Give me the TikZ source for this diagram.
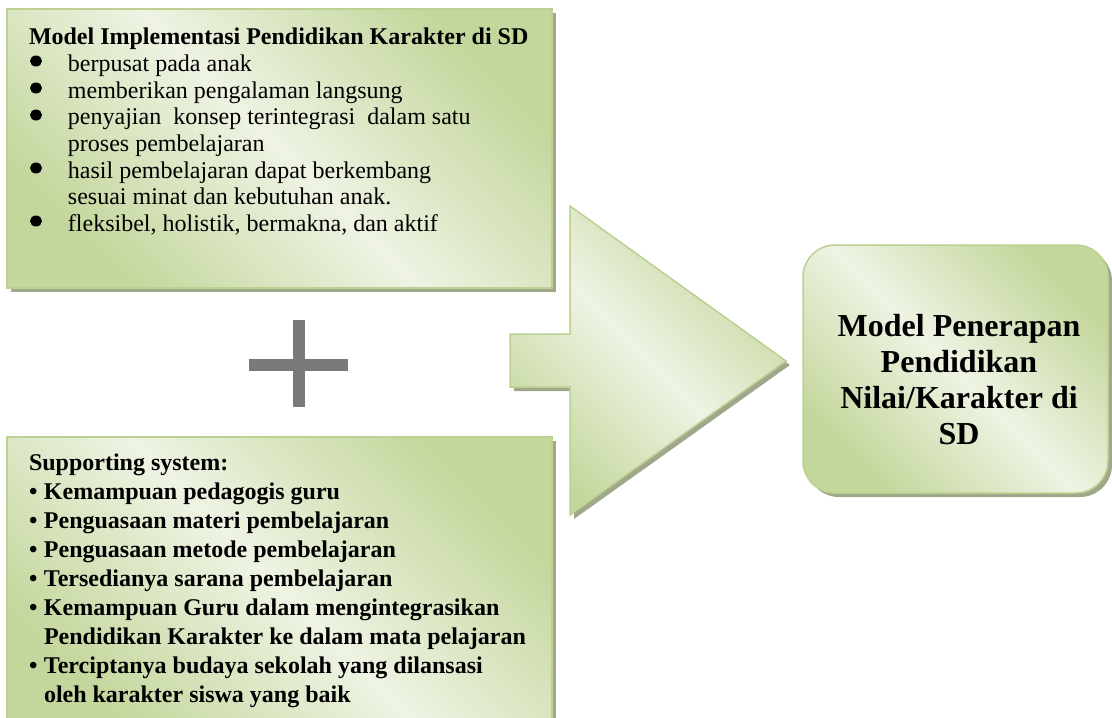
\documentclass[tikz,border=0pt]{standalone}
\usepackage{fontspec}
\setmainfont{Liberation Serif}
\usetikzlibrary{shadows}
\definecolor{gdark}{RGB}{195,214,155}
\definecolor{glight}{RGB}{238,243,227}
\definecolor{gborder}{RGB}{188,208,145}
\definecolor{gshadow}{RGB}{160,168,140}
\definecolor{plusgray}{RGB}{122,122,122}
\newcommand{\bigbul}{\hspace*{39pt}}
\newcommand{\smbul}{\makebox[15pt][l]{\textbullet}}
\tikzset{
  panel/.style={draw=gborder, line width=1.5pt,
    left color=gdark, right color=gdark, middle color=glight, shading angle=-45,
    drop shadow={shadow xshift=4pt, shadow yshift=-4pt, fill=gshadow, opacity=1}},
  boxnode/.style={panel, rectangle, inner sep=0pt, outer sep=0pt, anchor=north west},
  txt/.style={inner sep=0pt, outer sep=0pt, text=black},
  dot/.style={fill=black},
}
\begin{document}
\begin{tikzpicture}[x=1pt,y=-1pt]
\useasboundingbox (0,0) rectangle (1112,718);
% top box
\node[boxnode, minimum width=545pt, minimum height=279pt] (top) at (7,9) {};
% bottom box
\node[boxnode, minimum width=545pt, minimum height=300pt] (bottom) at (7,437) {};
% arrow
\path[panel] (510,334) -- (570,334) -- (570,206) -- (786,361) -- (570,515) -- (570,387) -- (510,387) -- cycle;
% right box
\node[boxnode, rounded corners=32pt, minimum width=305pt, minimum height=248pt] (result) at (803,245) {};
% plus
\fill[plusgray] (293,320) rectangle (305,407);
\fill[plusgray] (249,359) rectangle (348,371);
% texts
\node[txt, anchor=north west, align=left, font=\fontsize{24}{26.7}\selectfont] (toptext) at (29,26) {%
\strut\textbf{Model Implementasi Pendidikan Karakter di SD}\\
\bigbul berpusat pada anak\\
\bigbul memberikan pengalaman langsung\\
\bigbul penyajian\ \ konsep terintegrasi\ \ dalam satu\\
\hspace*{39pt}proses pembelajaran\\
\bigbul hasil pembelajaran dapat berkembang\\
\hspace*{39pt}sesuai minat dan kebutuhan anak.\\
\bigbul fleksibel, holistik, bermakna, dan aktif};
% big bullets of the top list
\foreach \yy in {61,88,115,168,221} \fill[dot] (36,\yy) ellipse (6pt and 5.5pt);
\node[txt, anchor=north west, align=left, font=\bfseries\fontsize{24}{29}\selectfont] (bottext) at (29,450) {%
\strut Supporting system:\\
\smbul Kemampuan pedagogis guru\\
\smbul Penguasaan materi pembelajaran\\
\smbul Penguasaan metode pembelajaran\\
\smbul Tersedianya sarana pembelajaran\\
\smbul Kemampuan Guru dalam mengintegrasikan\\
\hspace*{15pt}Pendidikan Karakter ke dalam mata pelajaran\\
\smbul Terciptanya budaya sekolah yang dilansasi\\
\hspace*{15pt}oleh karakter siswa yang baik};
\node[txt, anchor=north, align=center, font=\bfseries\fontsize{32}{36}\selectfont] (restext) at (959,311.5) {%
\strut Model Penerapan\\ Pendidikan\\ Nilai/Karakter di\\ SD};
\end{tikzpicture}
\end{document}
